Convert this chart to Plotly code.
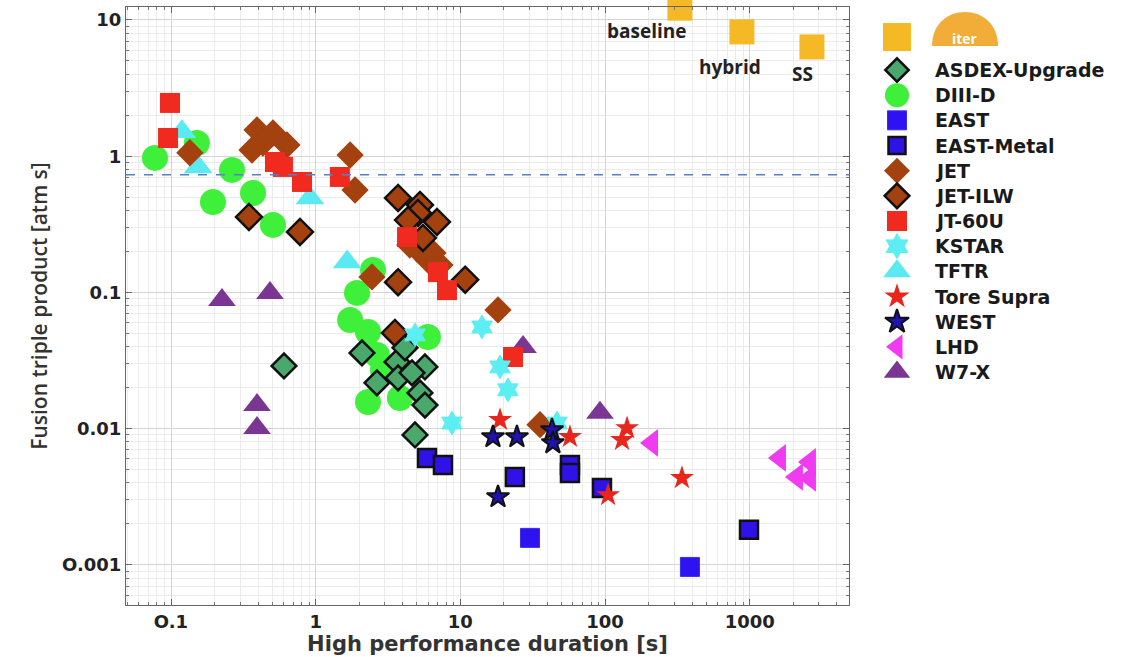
import numpy as np
import plotly.graph_objects as go

# ---------------- data ----------------
series_names = ["ASDEX-Upgrade", "DIII-D", "EAST", "EAST-Metal", "JET", "JET-ILW",
                "JT-60U", "KSTAR", "TFTR", "Tore Supra", "WEST", "LHD", "W7-X"]

asdex_x = [0.604, 2.09, 3.65, 4.14, 5.69, 2.65, 3.71, 4.63, 5.26, 5.69, 4.86]
asdex_y = [0.0289, 0.0360, 0.0309, 0.0392, 0.0284, 0.0217, 0.0236, 0.0257, 0.0183, 0.0149, 0.0090]

diiid_x = [0.0775, 0.151, 0.264, 0.195, 0.369, 0.507, 2.49, 1.93, 1.73, 2.30, 5.97, 2.65, 2.92, 2.30, 3.82]
diiid_y = [0.971, 1.25, 0.793, 0.461, 0.537, 0.313, 0.146, 0.0992, 0.0628, 0.0513, 0.0471, 0.0348, 0.0270, 0.0157, 0.0168]

east_x = [30.3, 386]
east_y = [0.00158, 0.000967]

eastm_x = [5.88, 7.58, 23.8, 57.2, 57.2, 95.2, 988]
eastm_y = [0.00610, 0.00542, 0.00442, 0.00542, 0.00473, 0.00367, 0.00181]

jet_x = [0.135, 0.363, 0.393, 0.507, 0.633, 0.432, 1.73, 1.87, 2.45, 4.47, 5.09, 5.97, 6.47, 7.23, 18.2, 35.5]
jet_y = [1.06, 1.11, 1.56, 1.48, 1.21, 1.25, 1.02, 0.565, 0.130, 0.223, 0.205, 0.173, 0.195, 0.159, 0.0744, 0.0107]

jetilw_x = [0.346, 0.779, 3.71, 5.26, 5.09, 6.89, 4.35, 5.51, 10.8, 3.71, 3.53]
jetilw_y = [0.358, 0.278, 0.494, 0.439, 0.383, 0.329, 0.340, 0.251, 0.124, 0.119, 0.0504]

jt60_x = [0.0984, 0.0954, 0.523, 0.594, 0.804, 1.47, 4.28, 7.00, 8.08, 23.1]
jt60_y = [2.46, 1.36, 0.907, 0.834, 0.647, 0.704, 0.255, 0.141, 0.104, 0.0336]

kstar_x = [4.86, 8.75, 14.1, 18.8, 21.3, 46.5]
kstar_y = [0.0488, 0.0110, 0.0558, 0.0284, 0.0193, 0.0110]

tftr_x = [0.119, 0.154, 0.913, 1.65]
tftr_y = [1.51, 0.834, 0.494, 0.167]

ts_x = [18.8, 57.2, 142, 131, 340, 105]
ts_y = [0.0116, 0.0087, 0.0101, 0.00827, 0.00435, 0.00326]

west_x = [16.8, 24.6, 43.0, 43.6, 18.2]
west_y = [0.0087, 0.0087, 0.00979, 0.00786, 0.00316]

lhd_x = [211, 1617, 2607, 2120, 2607]
lhd_y = [0.00786, 0.00610, 0.00570, 0.00442, 0.00435]

w7x_x = [0.225, 0.483, 0.393, 0.393, 27.1, 92.2]
w7x_y = [0.0881, 0.0992, 0.0149, 0.0101, 0.0398, 0.0131]

iter_x = [329, 883, 2691]
iter_y = [12.2, 8.17, 6.34]
iter_labels = ["baseline", "hybrid", "SS"]

ignition_level = 0.73

x_tickvals = [0.1, 1, 10, 100, 1000]
x_ticktext = ["O.1", "1", "10", "100", "1000"]
y_tickvals = [10, 1, 0.1, 0.01, 0.001]
y_ticktext = ["10", "1", "0.1", "0.01", "O.001"]

# ---------------- styles ----------------
BLK = "#111111"
styles = {
    "ASDEX-Upgrade": dict(symbol="diamond", color="#4ba86c", size=19, lc=BLK, lw=2.5, ls=18),
    "DIII-D": dict(symbol="circle", color="#3ef03a", size=26, lc="#3ef03a", lw=0, ls=24),
    "EAST": dict(symbol="square", color="#2f12f2", size=19, lc="#3a2cf6", lw=1, ls=19),
    "EAST-Metal": dict(symbol="square", color="#2f12e8", size=18, lc=BLK, lw=2.5, ls=17),
    "JET": dict(symbol="diamond", color="#a3420f", size=21, lc="#a3420f", lw=0, ls=20),
    "JET-ILW": dict(symbol="diamond", color="#a3420f", size=20, lc=BLK, lw=2.5, ls=19),
    "JT-60U": dict(symbol="square", color="#f02a1e", size=20, lc="#f02a1e", lw=0, ls=20),
    "KSTAR": dict(symbol="hexagram", color="#5ceef2", size=18, lc="#5ceef2", lw=1, ls=19),
    "TFTR": dict(symbol="triangle-up", color="#5ceaf2", size=25, lc="#5ceaf2", lw=0, ls=24),
    "Tore Supra": dict(symbol="star", color="#e8261c", size=18, lc="#e8261c", lw=0, ls=19),
    "WEST": dict(symbol="star", color="#1e12b0", size=17, lc=BLK, lw=2, ls=18),
    "LHD": dict(symbol="triangle-left", color="#f03cf0", size=24, lc="#f03cf0", lw=0, ls=22),
    "W7-X": dict(symbol="triangle-up", color="#7b3592", size=24, lc="#7b3592", lw=0, ls=23),
}
data = {
    "ASDEX-Upgrade": (asdex_x, asdex_y), "DIII-D": (diiid_x, diiid_y),
    "EAST": (east_x, east_y), "EAST-Metal": (eastm_x, eastm_y),
    "JET": (jet_x, jet_y), "JET-ILW": (jetilw_x, jetilw_y),
    "JT-60U": (jt60_x, jt60_y), "KSTAR": (kstar_x, kstar_y),
    "TFTR": (tftr_x, tftr_y), "Tore Supra": (ts_x, ts_y),
    "WEST": (west_x, west_y), "LHD": (lhd_x, lhd_y), "W7-X": (w7x_x, w7x_y),
}
draw_order = ["DIII-D", "TFTR", "W7-X", "JET", "JET-ILW", "JT-60U", "ASDEX-Upgrade",
              "KSTAR", "EAST", "EAST-Metal", "Tore Supra", "WEST", "LHD"]

fig = go.Figure()
for nm in draw_order:
    st = styles[nm]
    xs, ys = data[nm]
    fig.add_trace(go.Scatter(
        x=xs, y=ys, mode="markers", name=nm, showlegend=False,
        marker=dict(symbol=st["symbol"], size=st["size"], color=st["color"],
                    line=dict(color=st["lc"], width=st["lw"]))))

ITER_COL = "#f6b926"
fig.add_trace(go.Scatter(x=iter_x, y=iter_y, mode="markers", name="ITER", showlegend=False,
                         cliponaxis=False,
                         marker=dict(symbol="square", size=25, color=ITER_COL)))

# ITER scenario labels, tied to the ITER points
label_shift = {"baseline": (-33, -23), "hybrid": (-12, -35), "SS": (-9, -27)}
for xv, yv, lab in zip(iter_x, iter_y, iter_labels):
    dx, dy = label_shift[lab]
    fig.add_annotation(x=np.log10(xv), y=np.log10(yv), xref="x", yref="y", text=f"<b>{lab}</b>",
                       showarrow=False, xshift=dx, yshift=dy,
                       font=dict(family="Open Sans", size=19, color="#222222"))

# reference level line
fig.add_shape(type="line", xref="x domain", yref="y", x0=0, x1=1,
              y0=ignition_level, y1=ignition_level,
              line=dict(color="#5b7fc4", width=1.6, dash="dash"))

# ---------------- manual legend (right side) ----------------
LEG_MX, LEG_TX = 897, 933
for i, nm in enumerate(series_names):
    st = styles[nm]
    fig.add_trace(go.Scatter(
        x=[LEG_MX], y=[i], xaxis="x2", yaxis="y2", mode="markers", showlegend=False,
        hoverinfo="skip",
        marker=dict(symbol=st["symbol"], size=st["ls"], color=st["color"],
                    line=dict(color=st["lc"], width=st["lw"]))))
    fig.add_annotation(x=LEG_TX, y=i, xref="x2", yref="y2", text=nm, showarrow=False,
                       xanchor="left", yanchor="middle",
                       font=dict(family="DejaVu Sans", size=19, color="#1a1a1a", weight="bold"))

# ITER legend entry (square + logo)
fig.add_trace(go.Scatter(x=[LEG_MX], y=[-1.31], xaxis="x2", yaxis="y2", mode="markers",
                         showlegend=False, hoverinfo="skip",
                         marker=dict(symbol="square", size=28, color=ITER_COL)))
fig.add_shape(type="path", xref="x2", yref="y2",
              path="M 932,-0.95 C 932,-2.75 998,-2.75 998,-0.95 Z",
              fillcolor="#f2ac38", line=dict(width=0))
fig.add_annotation(x=965, y=-1.25, xref="x2", yref="y2", text="<b>iter</b>", showarrow=False,
                   font=dict(family="Open Sans", size=14, color="white"))

# ---------------- axes ----------------
def minor_vals(lo, hi):
    out = []
    for d in range(lo, hi + 1):
        for k in range(2, 10):
            out.append(k * 10.0 ** d)
    return out

tickfont = dict(family="DejaVu Sans", size=18, color="#222222", weight="bold")
axis_common = dict(type="log", showline=True, linecolor="#666666", linewidth=1, mirror="allticks",
                   ticks="inside", ticklen=6, tickcolor="#666666", showgrid=True,
                   gridcolor="#d4d4d4", gridwidth=1, zeroline=False, tickmode="array",
                   tickfont=tickfont)

fig.update_layout(
    width=1128, height=657, plot_bgcolor="white", paper_bgcolor="white",
    margin=dict(l=126, r=0, t=7, b=52),
    showlegend=False,
    xaxis=dict(**axis_common, domain=[0, 723 / 1002], range=[-1.311, 3.686],
               tickvals=x_tickvals, ticktext=x_ticktext,
               minor=dict(tickvals=minor_vals(-2, 3), ticks="inside", ticklen=3,
                          tickcolor="#777777", showgrid=True, gridcolor="#ececec"),
               title=dict(text="High performance duration [s]", standoff=2,
                          font=dict(family="DejaVu Sans", size=21, color="#333333", weight="bold"))),
    yaxis=dict(**axis_common, range=[-3.294, 1.095],
               tickvals=y_tickvals, ticktext=y_ticktext,
               minor=dict(tickvals=minor_vals(-4, 1), ticks="inside", ticklen=3,
                          tickcolor="#777777", showgrid=True, gridcolor="#ececec"),
               title=dict(text="Fusion triple product [atm s]", standoff=8,
                          font=dict(family="Open Sans", size=21, color="#333333", weight=600))),
    xaxis2=dict(domain=[(870 - 126) / 1002, 1], range=[870, 1128], visible=False,
                anchor="y2", fixedrange=True),
    yaxis2=dict(domain=[0, 1], range=[21.256, -2.503], visible=False, anchor="x2",
                fixedrange=True),
)

fig.write_html("out.html")
